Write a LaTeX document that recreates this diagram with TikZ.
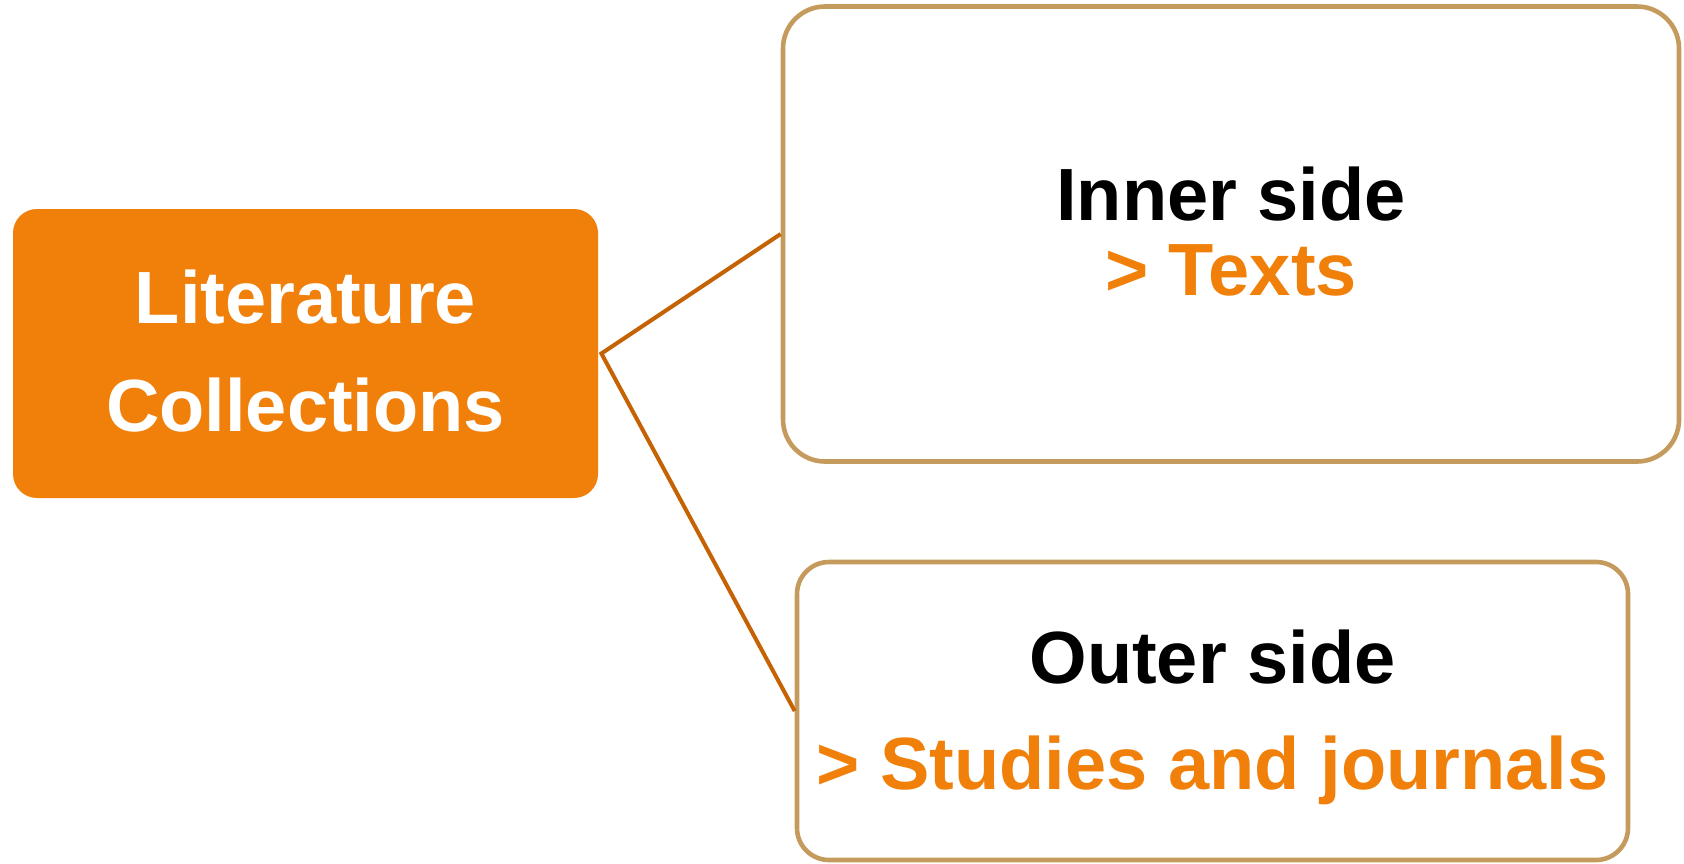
\documentclass[tikz,border=0pt]{standalone}
\usepackage{fontspec}
\setmainfont{Liberation Sans}
\definecolor{boxorange}{RGB}{240,128,10}
\definecolor{tanline}{RGB}{196,155,92}
\definecolor{linkline}{RGB}{196,98,4}
\begin{document}
\begin{tikzpicture}[x=0.5pt,y=-0.5pt,
  mainbox/.style={rounded corners=12pt, fill=boxorange, draw=none, inner sep=0pt},
  sidebox/.style={rounded corners=#1, draw=tanline, line width=2.3pt, fill=white, inner sep=0pt},
  label text/.style={inner sep=0pt, align=center, font=\bfseries\fontsize{37}{#1}\selectfont},
  link/.style={draw=linkline, line width=2pt}
]
\useasboundingbox (0,0) rectangle (1684,863);
\node[mainbox, minimum width=292.5pt, minimum height=144.5pt] (lc) at (305.5,353.5) {};
\node[sidebox=21pt, minimum width=448pt, minimum height=227.5pt] (inner) at (1231,234) {};
\node[sidebox=16pt, minimum width=415.5pt, minimum height=149pt] (outer) at (1212.5,711) {};
\node[label text=54, text=white] (lctext) at ([yshift=1.4pt]lc.center) {Literature\\Collections};
\node[label text=37.5] (innertext) at ([yshift=1.4pt]inner.center)
  {Inner side\\\textcolor{boxorange}{> Texts}};
\node[label text=53] (outertext) at ([yshift=-3.2pt]outer.center)
  {Outer side\\\textcolor{boxorange}{> Studies and journals}};
\coordinate (hub) at ([xshift=1.5pt]lc.east);
\draw[link] (inner.west) -- (hub) -- (outer.west);
\end{tikzpicture}
\end{document}
